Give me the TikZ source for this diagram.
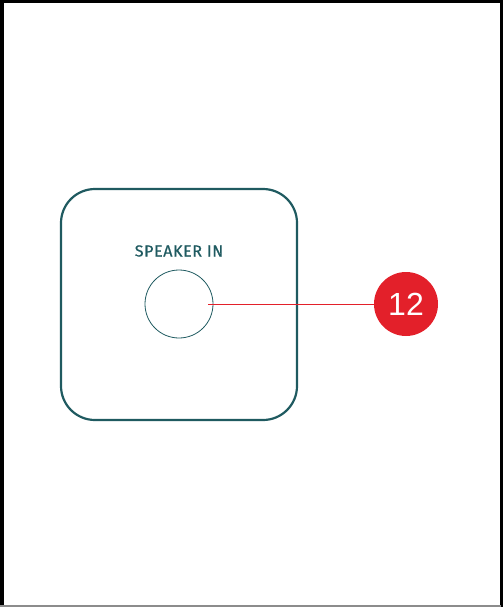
\documentclass[tikz,border=0pt]{standalone}
\usepackage{fontspec}
\setmainfont{Liberation Sans}
\newfontfamily\labelfont[LetterSpace=4,FakeBold=0.6]{Fira Sans}
\definecolor{teal1}{HTML}{1F5A60}
\definecolor{red1}{HTML}{E3202A}
\begin{document}
\begin{tikzpicture}[x=1pt,y=-1pt,
  panel/.style={draw=teal1,line width=2.2pt,rounded corners=34pt},
  jack/.style={draw=teal1,line width=0.8pt,circle,minimum size=68pt,inner sep=0pt},
  badge/.style={fill=red1,circle,minimum size=64pt,inner sep=0pt,text=white,font=\fontsize{32}{34}\selectfont},
  leader/.style={draw=red1,line width=0.6pt}]
\useasboundingbox (0,0) rectangle (503,607);
\draw[line width=3pt,black] (1.5,1.5) -- (501,1.5) -- (501,607);
\draw[line width=3.5pt,black] (1.75,0) -- (1.75,607);
\draw[line width=2pt,black!45] (0,605.5) -- (501,605.5);
\draw[panel] (61,189) rectangle (297,420);
\node[text=teal1,font=\labelfont\fontsize{16}{18}\selectfont] (lbl) at (179,251) {SPEAKER IN};
\node[jack] (jack) at (179,304) {};
\node[badge] (num) at (406,304) {12};
\coordinate (tip) at (208,304);
\draw[leader] (tip) -- (num.west);
\end{tikzpicture}
\end{document}
